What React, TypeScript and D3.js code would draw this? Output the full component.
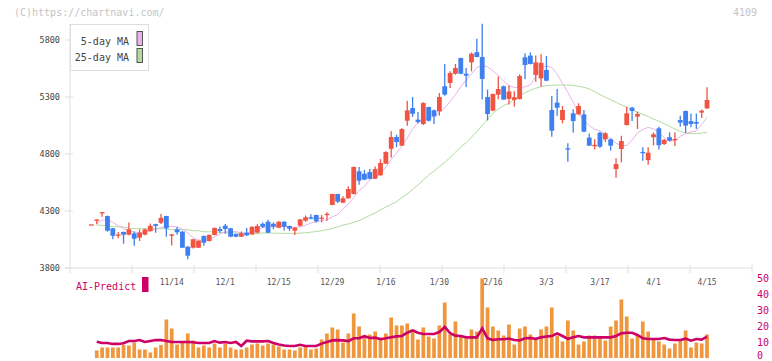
import React from "react";
import * as d3 from "d3";

const W = 772;
const H = 361;

// daily OHLC, oldest first
const opens = [
  4183, 4222, 4285, 4256, 4148, 4090, 4116, 4092, 4104, 4066,
  4092, 4124, 4185, 4197, 4256, 4083, 4139, 4118, 3987, 3978,
  3978, 4081, 4037, 4090, 4142, 4171, 4148, 4098, 4075, 4110,
  4095, 4110, 4188, 4206, 4188, 4153, 4206, 4168, 4127, 4171,
  4215, 4245, 4265, 4238, 4270, 4353, 4449, 4373, 4411, 4449,
  4648, 4627, 4642, 4583, 4613, 4715, 4846, 4949, 4873, 5092,
  5203, 5101, 5063, 5212, 5183, 5174, 5394, 5423, 5504, 5642,
  5504, 5604, 5693, 5651, 5300, 5180, 5320, 5394, 5283, 5274,
  5282, 5648, 5663, 5493, 5463, 5537, 5186, 5251, 5098, 4850,
  5157, 5148, 5148, 4944, 4875, 4987, 4929, 4929, 4668, 4844,
  5054, 5206, 5128, 4818, 4747, 4947, 5025, 4888, 4947, 4928,
  5098, 5177, 5089, 5081, 5163, 5201,
];
const highs = [
  4183, 4227, 4291, 4260, 4150, 4115, 4120, 4200, 4120, 4139,
  4145, 4190, 4188, 4274, 4258, 4100, 4160, 4125, 3990, 4055,
  4043, 4085, 4093, 4155, 4165, 4185, 4152, 4102, 4120, 4150,
  4165, 4185, 4200, 4224, 4200, 4210, 4210, 4172, 4160, 4230,
  4260, 4271, 4268, 4265, 4288, 4452, 4452, 4430, 4517, 4690,
  4686, 4660, 4668, 4690, 4755, 4825, 4999, 4970, 5025, 5268,
  5300, 5169, 5255, 5215, 5190, 5335, 5590, 5525, 5590, 5645,
  5554, 5690, 5810, 5943, 5365, 5330, 5480, 5400, 5400, 5350,
  5500, 5683, 5692, 5663, 5675, 5660, 5309, 5370, 5221, 4894,
  5192, 5245, 5185, 4980, 4930, 4995, 4990, 4935, 4762, 4960,
  5215, 5215, 5172, 4860, 4860, 4990, 5040, 4932, 4990, 4990,
  5135, 5180, 5155, 5155, 5190, 5385,
];
const lows = [
  4183, 4183, 4250, 4118, 4052, 4060, 4013, 4088, 3996, 4037,
  4088, 4120, 4110, 4186, 4075, 3997, 4092, 3975, 3876, 3970,
  3975, 3996, 4033, 4087, 4110, 4100, 4070, 4070, 4072, 4080,
  4092, 4104, 4150, 4105, 4140, 4150, 4130, 4125, 4090, 4165,
  4205, 4227, 4200, 4200, 4215, 4350, 4370, 4370, 4408, 4445,
  4531, 4570, 4578, 4580, 4610, 4712, 4770, 4860, 4870, 5048,
  5125, 5067, 5055, 5085, 5063, 5136, 5310, 5380, 5495, 5500,
  5387, 5525, 5648, 5277, 5095, 5175, 5280, 5277, 5235, 5215,
  5278, 5455, 5585, 5434, 5390, 5440, 4952, 5136, 5069, 4732,
  4987, 5145, 4990, 4870, 4840, 4855, 4905, 4830, 4592, 4727,
  5050, 5089, 5020, 4740, 4705, 4875, 4840, 4880, 4910, 4870,
  5040, 4985, 5035, 5020, 5115, 5195,
];
const closes = [
  4183, 4225, 4290, 4127, 4083, 4094, 4092, 4139, 4057, 4110,
  4139, 4170, 4170, 4240, 4148, 4095, 4113, 3978, 3908, 4052,
  4040, 4022, 4090, 4151, 4124, 4142, 4075, 4075, 4104, 4087,
  4162, 4168, 4162, 4110, 4162, 4206, 4162, 4145, 4153, 4226,
  4245, 4232, 4210, 4242, 4275, 4449, 4382, 4411, 4493, 4686,
  4566, 4575, 4583, 4668, 4721, 4817, 4949, 4905, 5019, 5183,
  5153, 5081, 5247, 5092, 5130, 5300, 5321, 5511, 5554, 5504,
  5487, 5680, 5651, 5458, 5151, 5326, 5370, 5277, 5348, 5298,
  5484, 5581, 5590, 5604, 5600, 5443, 5004, 5206, 5186, 4840,
  5089, 5221, 4996, 4873, 4880, 4864, 4982, 4873, 4712, 4914,
  5157, 5177, 5151, 4814, 4812, 4973, 4877, 4923, 4917, 4932,
  5075, 5049, 5063, 5066, 5180, 5274,
];

// moving averages as drawn
const ma5 = [
  null, 4190, 4221, 4225, 4200, 4170, 4145, 4130, 4115, 4110,
  4115, 4125, 4140, 4155, 4165, 4165, 4160, 4140, 4108, 4065,
  4045, 4040, 4048, 4072, 4098, 4115, 4120, 4118, 4110, 4104,
  4115, 4138, 4155, 4163, 4168, 4168, 4166, 4160, 4157, 4160,
  4175, 4195, 4205, 4215, 4225, 4248, 4270, 4320, 4360, 4420,
  4480, 4515, 4575, 4600, 4628, 4685, 4750, 4810, 4870, 4940,
  5020, 5075, 5105, 5115, 5128, 5165, 5203, 5260, 5320, 5390,
  5450, 5500, 5560, 5575, 5565, 5530, 5490, 5440, 5400, 5385,
  5380, 5390, 5405, 5480, 5555, 5572, 5560, 5500, 5420, 5340,
  5255, 5150, 5095, 5050, 5015, 5005, 4965, 4935, 4895, 4872,
  4875, 4920, 4985, 5015, 5034, 5020, 4990, 4945, 4915, 4915,
  4955, 4980, 4995, 5000, 5060, 5120,
];
const ma25 = [
  null, 4175, 4175, 4170, 4162, 4162, 4160, 4150, 4145, 4145,
  4145, 4145, 4145, 4145, 4143, 4136, 4136, 4136, 4136, 4127,
  4127, 4118, 4118, 4118, 4112, 4110, 4110, 4108, 4100, 4098,
  4098, 4100, 4108, 4108, 4105, 4105, 4104, 4104, 4104, 4106,
  4109, 4114, 4120, 4127, 4137, 4147, 4160, 4177, 4187, 4200,
  4215, 4238, 4262, 4283, 4310, 4335, 4358, 4382, 4418, 4450,
  4488, 4528, 4572, 4615, 4650, 4690, 4725, 4770, 4815, 4862,
  4900, 4948, 4996, 5050, 5105, 5155, 5195, 5225, 5245, 5280,
  5309, 5338, 5359, 5377, 5391, 5400, 5402, 5405, 5405, 5405,
  5402, 5394, 5385, 5371, 5347, 5321, 5298, 5277, 5253, 5230,
  5210, 5186, 5166, 5148, 5130, 5107, 5087, 5066, 5043, 5019,
  4999, 4984, 4979, 4979, 4984, 4990,
];

// volume (thousand shares)
const volumes = [
  null, 15, 21, 21, 21, 21, 26, 25, 31, 17,
  17, 11, 21, 26, 77, 59, 27, 30, 49, 35,
  21, 25, 21, 29, 21, 29, 21, 17, 17, 21,
  27, 29, 25, 29, 27, 23, 17, 17, 15, 21,
  22, 17, 19, 37, 49, 61, 57, 31, 49, 89,
  63, 41, 47, 53, 41, 49, 81, 65, 65, 69,
  57, 37, 61, 43, 39, 65, 111, 47, 73, 45,
  39, 57, 53, 159, 101, 63, 55, 45, 67, 27,
  59, 63, 47, 37, 57, 63, 101, 45, 33, 75,
  55, 27, 33, 45, 45, 41, 35, 63, 75, 117,
  83, 39, 45, 73, 53, 37, 33, 27, 19, 29,
  37, 55, 21, 31, 29, 47,
];

// AI-Predict index (right axis 0-50)
const aiPredict = [
  null, 10.2, 9.4, 9.4, 8.8, 8.8, 9.2, 10.6, 10.6, 11.2,
  10.0, 10.6, 11.2, 11.2, 10.6, 10.0, 10.0, 10.0, 10.0, 9.8,
  9.4, 9.4, 9.4, 10.6, 9.6, 10.0, 9.4, 10.0, 7.5, 10.8,
  10.4, 10.4, 10.4, 10.6, 9.4, 8.5, 7.8, 7.5, 7.5, 8.3,
  7.5, 7.5, 7.5, 9.0, 10.0, 11.0, 11.2, 11.0, 10.6, 12.3,
  12.3, 13.6, 12.5, 12.7, 11.7, 12.3, 13.0, 13.5, 13.8, 15.8,
  17.3, 15.8, 15.0, 15.0, 15.0, 16.2, 19.4, 15.5, 14.0, 13.75,
  12.9, 12.9, 12.9, 18.5, 12.3, 11.25, 11.7, 11.7, 12.2, 11.3,
  11.0, 12.3, 12.5, 12.0, 12.9, 13.4, 13.7, 15.4, 13.75, 11.9,
  12.9, 13.75, 12.9, 12.9, 12.9, 12.9, 12.9, 12.9, 13.75, 15.4,
  15.8, 15.8, 14.4, 12.3, 11.9, 11.9, 11.9, 12.5, 11.5, 11.25,
  11.25, 12.1, 10.8, 11.9, 11.5, 13.3,
];

const dateLabels = ["11/14", "12/1", "12/15", "12/29", "1/16", "1/30", "2/16", "3/3", "3/17", "4/1", "4/15"];
const dateIndex = [15, 25, 35, 45, 55, 65, 75, 85, 95, 105, 115];
const priceTicks = [3800, 4300, 4800, 5300, 5800];
const aiTicks = [0, 10, 20, 30, 40, 50];

const UP = "#f05443";
const DOWN = "#3f7ff0";
const MAG = "#cc0066";
const MONO = "'DejaVu Sans Mono', monospace";

export default function App() {
  const x = d3.scaleLinear().domain([-4, 123.4]).range([70, 752]);
  const y = d3.scaleLinear().domain([3800, 5800]).range([268, 40]);
  const grid = d3.scaleLinear().domain([0, 11]).range([70, 752]);
  const yv = d3.scaleLinear().domain([0, 166]).range([358, 275]);
  const ya = d3.scaleLinear().domain([0, 50]).range([358, 278]);

  const maLine = d3
    .line<number | null>()
    .defined((d) => d != null)
    .x((_, i) => x(i))
    .y((d) => y(d as number));
  const aiLine = d3
    .line<number | null>()
    .defined((d) => d != null)
    .x((_, i) => x(i))
    .y((d) => ya(d as number));

  const bw = 4.8;

  return (
    <svg width={W} height={H} style={{ position: "absolute", left: 0, top: 0, background: "#fff" }}>
      <text x={14} y={16} fontFamily={MONO} fontSize={10} fill="#c4c4c4">(C)https://chartnavi.com/</text>
      <text x={757} y={16} fontFamily={MONO} fontSize={10} fill="#c4c4c4" textAnchor="end">4109</text>

      {/* axes */}
      <line x1={70} y1={24} x2={70} y2={273} stroke="#dddddd" />
      <line x1={65} y1={268} x2={752} y2={268} stroke="#dddddd" />
      {d3.range(1, 12).map((j) => (
        <line key={j} x1={grid(j)} y1={265} x2={grid(j)} y2={273} stroke="#dddddd" />
      ))}
      {priceTicks.map((p) => (
        <g key={p}>
          <line x1={65} y1={y(p)} x2={73} y2={y(p)} stroke="#dddddd" />
          <text x={60} y={y(p) + 3} fontFamily={MONO} fontSize={8.5} fill="#444" textAnchor="end">{p}</text>
        </g>
      ))}
      {dateLabels.map((d, i) => (
        <text key={d} x={x(dateIndex[i])} y={285} fontFamily={MONO} fontSize={8} fill="#555" textAnchor="middle">{d}</text>
      ))}

      {/* moving averages */}
      <path d={maLine(ma25) || ""} fill="none" stroke="#b2dba2" strokeWidth={1} />
      <path d={maLine(ma5) || ""} fill="none" stroke="#eab2ea" strokeWidth={1} />

      {/* candles */}
      {closes.map((c, i) => {
        const o = opens[i];
        const col = c >= o ? UP : DOWN;
        const top = y(Math.max(o, c));
        const bot = y(Math.min(o, c));
        return (
          <g key={i}>
            <line x1={x(i)} x2={x(i)} y1={y(highs[i])} y2={y(lows[i])} stroke={col} strokeWidth={1.3} />
            <rect x={x(i) - bw / 2} y={top} width={bw} height={Math.max(1.3, bot - top)} fill={col} />
          </g>
        );
      })}

      {/* legend */}
      <rect x={70.5} y={24.5} width={78} height={46} fill="#fff" stroke="#dddddd" />
      <text x={129} y={45} fontFamily={MONO} fontSize={10} fill="#444" textAnchor="end">5-day MA</text>
      <rect x={137} y={31.5} width={5.5} height={14} fill="#eab2ea" stroke="#555" />
      <text x={129} y={61} fontFamily={MONO} fontSize={10} fill="#444" textAnchor="end">25-day MA</text>
      <rect x={137} y={48.5} width={5.5} height={14} fill="#b2dba2" stroke="#555" />

      {/* volume + AI predict */}
      {volumes.map((v, i) =>
        v == null ? null : (
          <rect key={i} x={x(i) - 1.85} y={yv(v)} width={3.7} height={358 - yv(v)} fill="#f0963c" />
        )
      )}
      <path d={aiLine(aiPredict) || ""} fill="none" stroke={MAG} strokeWidth={2.6} />
      <text x={76} y={290} fontFamily={MONO} fontSize={10} fill={MAG}>AI-Predict</text>
      <rect x={142} y={277} width={6.5} height={15} fill={MAG} />
      {aiTicks.map((t) => (
        <text key={t} x={757} y={Math.min(ya(t) + 4, 359)} fontFamily={MONO} fontSize={10} fill={MAG}>{t}</text>
      ))}
    </svg>
  );
}
